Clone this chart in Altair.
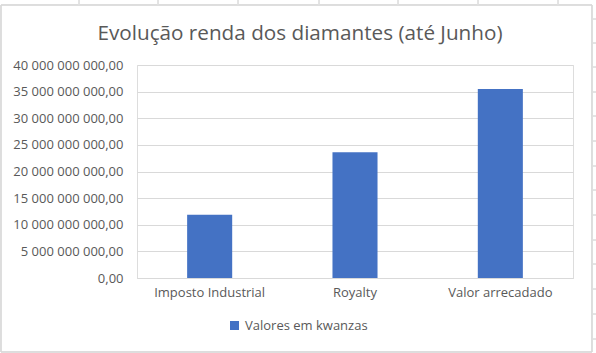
import altair as alt
import pandas as pd

categories = ["Imposto Industrial", "Royalty", "Valor arrecadado"]
values = [11900000000, 23600000000, 35500000000]
series_name = "Valores em kwanzas"

df = pd.DataFrame({"categoria": categories, "valor": values, "serie": [series_name] * 3})

FONT = "Open Sans"
GREY = "#595959"
LINE = "#d9d9d9"

label_expr = "replace(replace(format(datum.value, ',.2f'), regexp(',', 'g'), ' '), '.', ',')"

bars = alt.Chart(df).mark_bar(color="#4472C4").encode(
    x=alt.X("categoria:N", sort=categories, title=None,
            scale=alt.Scale(paddingInner=0.69, paddingOuter=0.345),
            axis=alt.Axis(labelAngle=0, labelFontSize=13, labelColor=GREY, labelFont=FONT,
                          ticks=False, domainColor=LINE, labelPadding=8)),
    y=alt.Y("valor:Q", title=None,
            scale=alt.Scale(domain=[0, 40000000000]),
            axis=alt.Axis(values=[i * 5000000000 for i in range(9)], labelExpr=label_expr,
                          labelFontSize=13, labelColor=GREY, labelFont=FONT,
                          ticks=False, domain=False, gridColor=LINE, labelPadding=14)),
    fill=alt.Fill("serie:N", scale=alt.Scale(range=["#4472C4"]),
                  legend=alt.Legend(title=None, orient="none", legendX=91, legendY=254,
                                    symbolType="square", symbolSize=81, symbolStrokeWidth=0,
                                    labelFontSize=13, labelColor=GREY, labelFont=FONT,
                                    labelOffset=4)),
)

# chart frame (Excel chart border)
layers = [bars]
layers.append(alt.Chart(df).mark_rect(fill=None, stroke=LINE, strokeWidth=1).encode(
    x=alt.value(-136), x2=alt.value(455), y=alt.value(-60), y2=alt.value(287)
))

# spreadsheet cell gridlines visible around the chart (decoration)
sheet_cols = [-58, 21, 101, 182, 261, 341, 421]
for cx in sheet_cols:
    layers.append(alt.Chart(df).mark_rule(color="#e0e0e0", strokeWidth=1).encode(
        x=alt.value(cx), y=alt.value(-65), y2=alt.value(-60)))
sheet_rows = [19, 43, 67, 92, 116, 141, 166, 190, 215, 240, 264, 289, 314, 339]
for ry in sheet_rows:
    layers.append(alt.Chart(df).mark_rule(color="#e0e0e0", strokeWidth=1).encode(
        x=alt.value(456), x2=alt.value(459), y=alt.value(ry - 65)))

chart = alt.layer(*layers).properties(
    width=436, height=213,
    title=alt.TitleParams("Evolução renda dos diamantes (até Junho)", fontSize=20.7,
                          font=FONT, fontWeight="normal", color=GREY, dx=-55, offset=-45),
    autosize=alt.AutoSizeParams(type="none"),
    padding={"left": 137, "top": 65, "right": 23, "bottom": 75},
).configure_view(stroke=None).configure(background="white")

chart.save("out.html", embed_options={"renderer": "svg", "actions": False})
